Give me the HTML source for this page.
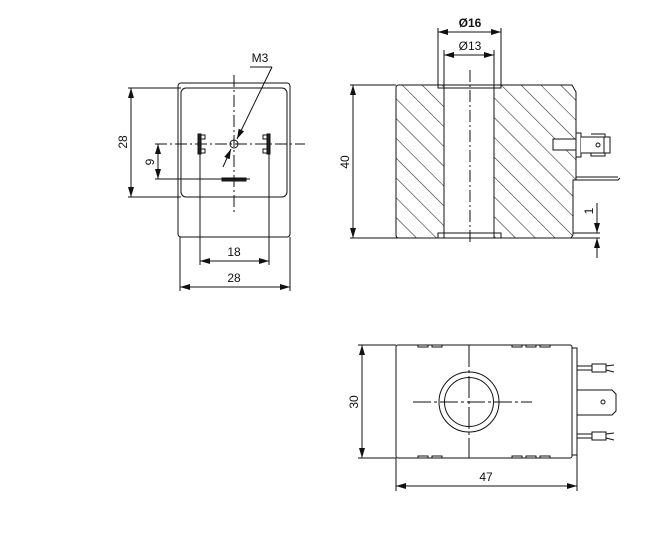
<!DOCTYPE html>
<html><head><style>body{margin:0;background:#fff}svg{display:block}text{font-family:"Liberation Sans",sans-serif;font-size:12px;fill:#111}</style></head>
<body>
<svg width="647" height="552" viewBox="0 0 647 552" xmlns="http://www.w3.org/2000/svg">
<defs>
<marker id="a" markerWidth="10" markerHeight="6" refX="10" refY="3" orient="auto-start-reverse" markerUnits="userSpaceOnUse"><path d="M0,0 L10,3 L0,6z" fill="#111"/></marker>
<pattern id="h" width="14" height="14" patternUnits="userSpaceOnUse" patternTransform="rotate(-45)"><line x1="0" y1="0" x2="0" y2="14" stroke="#222" stroke-width="1.1"/></pattern>
</defs>
<g stroke="#111" fill="none" stroke-width="1">
<!-- View 1 -->
<rect x="178" y="83" width="112" height="154" rx="3"/>
<rect x="181" y="88" width="106" height="109" rx="5"/>
<line x1="234" y1="75" x2="234" y2="213" stroke-dasharray="12,3,2,3"/>
<line x1="155" y1="144" x2="305" y2="144" stroke-dasharray="12,3,2,3"/>
<circle cx="234" cy="144" r="4"/>
<rect x="198" y="134" width="3" height="20" fill="#222"/>
<path d="M201,135 h4 v4 h-4 M201,149 h4 v4 h-4"/>
<rect x="267" y="134" width="3" height="20" fill="#222"/>
<path d="M267,135 h-4 v4 h4 M267,149 h-4 v4 h4"/>
<rect x="222" y="178" width="24" height="3" fill="#222"/>
<line x1="128" y1="88" x2="181" y2="88"/><line x1="128" y1="197" x2="181" y2="197"/>
<line x1="131" y1="88" x2="131" y2="197" marker-start="url(#a)" marker-end="url(#a)"/>
<line x1="155" y1="179" x2="250" y2="179"/>
<line x1="158" y1="144" x2="158" y2="179" marker-start="url(#a)" marker-end="url(#a)"/>
<line x1="200" y1="154" x2="200" y2="265"/><line x1="269" y1="154" x2="269" y2="265"/>
<line x1="200" y1="261" x2="269" y2="261" marker-start="url(#a)" marker-end="url(#a)"/>
<line x1="180" y1="237" x2="180" y2="291"/><line x1="290" y1="237" x2="290" y2="291"/>
<line x1="180" y1="287" x2="290" y2="287" marker-start="url(#a)" marker-end="url(#a)"/>
<line x1="250" y1="67" x2="272" y2="67"/>
<line x1="272" y1="67" x2="237" y2="139" marker-end="url(#a)"/>
<line x1="223" y1="167" x2="231" y2="149" marker-end="url(#a)"/>
<!-- View 2 -->
<path d="M396,88 Q396,85 399,85 H572 L576,92 V180 H573 V235 L571,238 H399 Q396,238 396,235 Z" fill="url(#h)"/>
<rect x="444" y="85" width="50" height="153" fill="#fff"/>
<line x1="444" y1="88" x2="444" y2="233"/><line x1="494" y1="88" x2="494" y2="233"/>
<path d="M438,28 V88 H501 V28 M438,238 V233 H501 V238"/>
<line x1="444" y1="50" x2="444" y2="88"/><line x1="494" y1="50" x2="494" y2="88"/>
<line x1="470" y1="70" x2="470" y2="243" stroke-dasharray="12,3,2,3"/>
<line x1="438" y1="32" x2="501" y2="32" marker-start="url(#a)" marker-end="url(#a)"/>
<line x1="444" y1="55" x2="494" y2="55" marker-start="url(#a)" marker-end="url(#a)"/>
<rect x="553" y="139" width="23" height="11" fill="#fff"/>
<rect x="576" y="133" width="5" height="24" fill="#fff"/>
<path d="M581,137 H610 V153 H581 M591,134 H605 V137 M591,153 V156 H605 V153 M604,137 V153" fill="#fff"/>
<circle cx="598" cy="145" r="2"/>
<path d="M576,177 H618 M576,180 H618 L620,178"/>
<line x1="350" y1="85" x2="396" y2="85"/><line x1="350" y1="238" x2="600" y2="238"/>
<line x1="353" y1="85" x2="353" y2="238" marker-start="url(#a)" marker-end="url(#a)"/>
<line x1="573" y1="233" x2="600" y2="233"/>
<line x1="597" y1="203" x2="597" y2="233" marker-end="url(#a)"/>
<line x1="597" y1="258" x2="597" y2="238" marker-end="url(#a)"/>
<!-- View 3 -->
<rect x="396" y="345" width="176" height="113" rx="2"/>
<rect x="572" y="348" width="5" height="107"/>
<path d="M418,345 v2 h10 v-2 M432,345 v2 h10 v-2 M512,345 v2 h10 v-2 M526,345 v2 h10 v-2 M540,345 v2 h10 v-2 M418,458 v-2 h10 v2 M432,458 v-2 h10 v2 M512,458 v-2 h10 v2 M526,458 v-2 h10 v2 M540,458 v-2 h10 v2"/>
<circle cx="469" cy="402" r="30"/><circle cx="469" cy="402" r="24.5"/>
<line x1="469" y1="345" x2="469" y2="458" stroke-dasharray="22,3,3,3"/>
<line x1="413" y1="402" x2="532" y2="402" stroke-dasharray="18,3,3,3"/>
<path d="M577,366 H592 M577,370 H592 M592,364 H606 V372 H592 Z M606,366 L614,365 M606,370 L614,372"/>
<path d="M577,434 H592 M577,438 H592 M592,432 H606 V440 H592 Z M606,434 L614,433 M606,438 L614,440"/>
<path d="M577,390 H612 L616,394 V411 L612,415 H577"/>
<circle cx="603" cy="402" r="2"/>
<line x1="358" y1="345" x2="396" y2="345"/><line x1="358" y1="458" x2="396" y2="458"/>
<line x1="362" y1="345" x2="362" y2="458" marker-start="url(#a)" marker-end="url(#a)"/>
<line x1="396" y1="458" x2="396" y2="491"/><line x1="577" y1="455" x2="577" y2="491"/>
<line x1="396" y1="486" x2="577" y2="486" marker-start="url(#a)" marker-end="url(#a)"/>
</g>
<g stroke="none">
<text x="260" y="62" text-anchor="middle">M3</text>
<text x="234" y="256" text-anchor="middle">18</text>
<text x="234" y="282" text-anchor="middle">28</text>
<text transform="translate(127,142) rotate(-90)" text-anchor="middle">28</text>
<text transform="translate(154,162) rotate(-90)" text-anchor="middle">9</text>
<text x="470" y="27" text-anchor="middle" font-weight="bold">Ø16</text>
<text x="470" y="50" text-anchor="middle">Ø13</text>
<text transform="translate(349,162) rotate(-90)" text-anchor="middle">40</text>
<text transform="translate(593,211) rotate(-90)" text-anchor="middle">1</text>
<text transform="translate(358,402) rotate(-90)" text-anchor="middle">30</text>
<text x="486" y="481" text-anchor="middle">47</text>
</g>
</svg>
</body></html>
